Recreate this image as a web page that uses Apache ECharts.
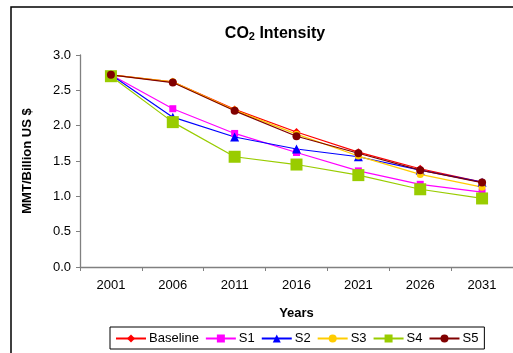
<!DOCTYPE html>
<html>
<head>
<meta charset="utf-8">
<script src="https://cdn.jsdelivr.net/npm/echarts@6/dist/echarts.min.js"></script>
<style>
  html, body { margin: 0; padding: 0; background: #fff; }
  #chart { width: 513px; height: 353px; }
</style>
</head>
<body>
<div id="chart"></div>
<script>
// Years on the horizontal axis
var years = ['2001', '2006', '2011', '2016', '2021', '2026', '2031'];

// CO2 intensity per scenario (MMT per billion US $)
var baseline = [2.72, 2.62, 2.23, 1.91, 1.625, 1.39, 1.20];
var s1 = [2.72, 2.24, 1.89, 1.62, 1.36, 1.17, 1.06];
var s2 = [2.72, 2.12, 1.84, 1.67, 1.56, 1.37, 1.20];
var s3 = [2.72, 2.62, 2.22, 1.88, 1.57, 1.31, 1.13];
var s4 = [2.70, 2.05, 1.56, 1.45, 1.30, 1.10, 0.97];
var s5 = [2.72, 2.61, 2.21, 1.85, 1.61, 1.37, 1.195];

var font = 'Arial, "Liberation Sans", sans-serif';

function line(name, data, color, symbol, size) {
  return {
    name: name,
    type: 'line',
    data: data,
    symbol: symbol,
    symbolSize: size,
    showSymbol: true,
    lineStyle: { color: color, width: 1.2 },
    itemStyle: { color: color, borderWidth: 0 },
    animation: false
  };
}

var chart = echarts.init(document.getElementById('chart'), null, { renderer: 'canvas' });
chart.setOption({
  backgroundColor: '#fff',
  animation: false,
  title: {
    text: '{t|CO}{s|2}{t| Intensity}',
    left: 270,
    textAlign: 'center',
    top: 20,
    textStyle: {
      rich: {
        t: { fontFamily: font, fontSize: 16, fontWeight: 'bold', color: '#000' },
        s: { fontFamily: font, fontSize: 11, fontWeight: 'bold', color: '#000', verticalAlign: 'bottom', padding: [6, 0, 0, 0] }
      }
    }
  },
  graphic: [{
    type: 'rect',
    shape: { x: 11, y: 7, width: 600, height: 400 },
    style: { fill: 'none', stroke: '#000', lineWidth: 1.5 },
    silent: true
  }],
  grid: { left: 80, top: 55, width: 436, height: 212, containLabel: false },
  legend: {
    left: 110,
    top: 327,
    padding: [5, 6, 4, 5],
    itemGap: 6,
    itemWidth: 30,
    itemHeight: 10,
    borderColor: '#000',
    borderWidth: 1,
    textStyle: { fontFamily: font, fontSize: 13, color: '#000', padding: [0, 0, 0, -2] },
    data: ['Baseline', 'S1', 'S2', 'S3', 'S4', 'S5']
  },
  xAxis: {
    type: 'category',
    data: years,
    boundaryGap: true,
    name: 'Years',
    nameLocation: 'middle',
    nameGap: 40,
    nameTextStyle: { fontFamily: font, fontSize: 13, fontWeight: 'bold', color: '#000' },
    axisLine: { lineStyle: { color: '#808080', width: 1.3 } },
    axisTick: { show: true, alignWithLabel: false, length: 4, lineStyle: { color: '#808080' } },
    axisLabel: { fontFamily: font, fontSize: 13, color: '#000', margin: 12 },
    splitLine: { show: false }
  },
  yAxis: {
    type: 'value',
    min: 0,
    max: 3,
    interval: 0.5,
    name: 'MMT/Billion US $',
    nameLocation: 'middle',
    nameRotate: 90,
    nameGap: 46,
    nameTextStyle: { fontFamily: font, fontSize: 13, fontWeight: 'bold', color: '#000' },
    axisLine: { show: true, lineStyle: { color: '#808080', width: 1.3 } },
    axisTick: { show: true, length: 4, inside: false, lineStyle: { color: '#808080' } },
    axisLabel: {
      fontFamily: font, fontSize: 13, color: '#000', margin: 9,
      formatter: function (v) { return v.toFixed(1); }
    },
    splitLine: { show: false }
  },
  series: [
    line('Baseline', baseline, '#FF0000', 'diamond', 8),
    line('S1', s1, '#FF00FF', 'rect', 7),
    line('S2', s2, '#0000FF', 'triangle', 9),
    line('S3', s3, '#FFCC00', 'circle', 7),
    line('S4', s4, '#99CC00', 'rect', 12),
    line('S5', s5, '#800000', 'circle', 8)
  ]
});
</script>
</body>
</html>
